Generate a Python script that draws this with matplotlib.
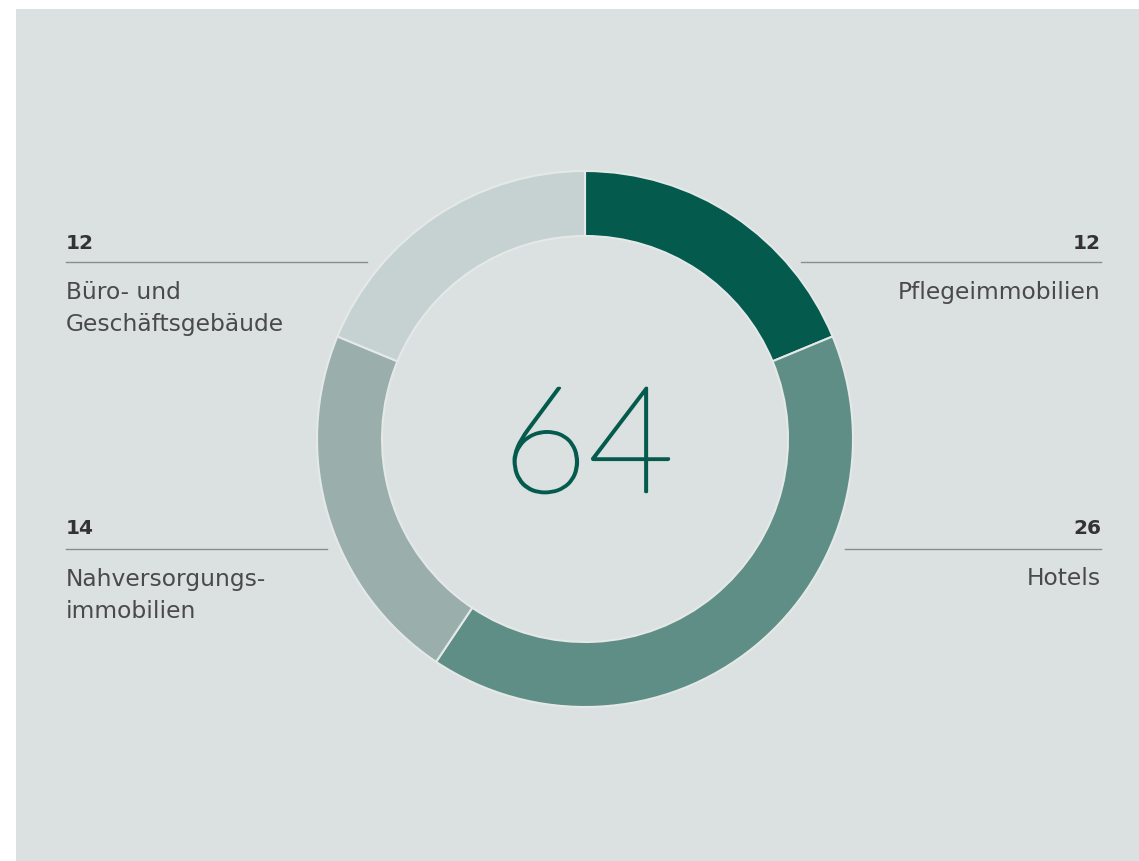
import matplotlib
matplotlib.use("Agg")
import matplotlib.pyplot as plt
import matplotlib.patheffects as pe
from matplotlib.patches import Rectangle

# data
categories = ["Pflegeimmobilien", "Hotels", "Nahversorgungs-\nimmobilien", "Büro- und\nGeschäftsgebäude"]
values = [12, 26, 14, 12]
colors = ["#055a4e", "#5f8e86", "#9aafac", "#c5d2d1"]
total = sum(values)

W, H = 1139, 861
bg = "#dbe1e0"

fig = plt.figure(figsize=(W / 100, H / 100), dpi=100, facecolor="white")
ax = fig.add_axes([0, 0, 1, 1])

def Y(py):
    return H - py

cx, cy, r = 585, Y(439), 268
ax.pie(values, colors=colors, startangle=90, counterclock=False, center=(cx, cy), radius=r,
       wedgeprops=dict(width=65, edgecolor="#e4e9e8", linewidth=1.5), frame=True)
ax.set_xlim(0, W)
ax.set_ylim(0, H)
ax.set_aspect("equal")
ax.axis("off")

ax.add_patch(Rectangle((16, 0), W - 16, Y(9), facecolor=bg, edgecolor="none", zorder=0))

ax.text(cx + 3, Y(492), str(total), ha="center", va="baseline", fontsize=107,
        fontfamily="Lato", fontweight=100, color="#055a4e",
        path_effects=[pe.withStroke(linewidth=1.7, foreground="#055a4e")])

font = "DejaVu Sans"
num_col = "#333333"
lab_col = "#4a4a4a"
line_col = "#8c8c8c"

# (value index, x text, x line start, x line end, number baseline, line y, first label baseline, align)
labels = [
    (3, 66, 66, 367, 249, 262, 299, "left"),
    (0, 1101, 801, 1101, 249, 262, 299, "right"),
    (2, 66, 66, 327, 534, 549, 586, "left"),
    (1, 1101, 845, 1101, 534, 549, 585, "right"),
]
for i, xt, x0, x1, nb, ly, tb, al in labels:
    ax.text(xt, Y(nb), str(values[i]), ha=al, va="baseline", fontsize=14.5,
            fontweight="bold", fontfamily=font, color=num_col)
    ax.plot([x0, x1], [Y(ly), Y(ly)], color=line_col, lw=1.0)
    for k, line in enumerate(categories[i].split("\n")):
        ax.text(xt, Y(tb + 32 * k), line, ha=al, va="baseline", fontsize=16.8,
                fontfamily=font, color=lab_col)

fig.savefig("out.png", dpi=100, facecolor="white")
